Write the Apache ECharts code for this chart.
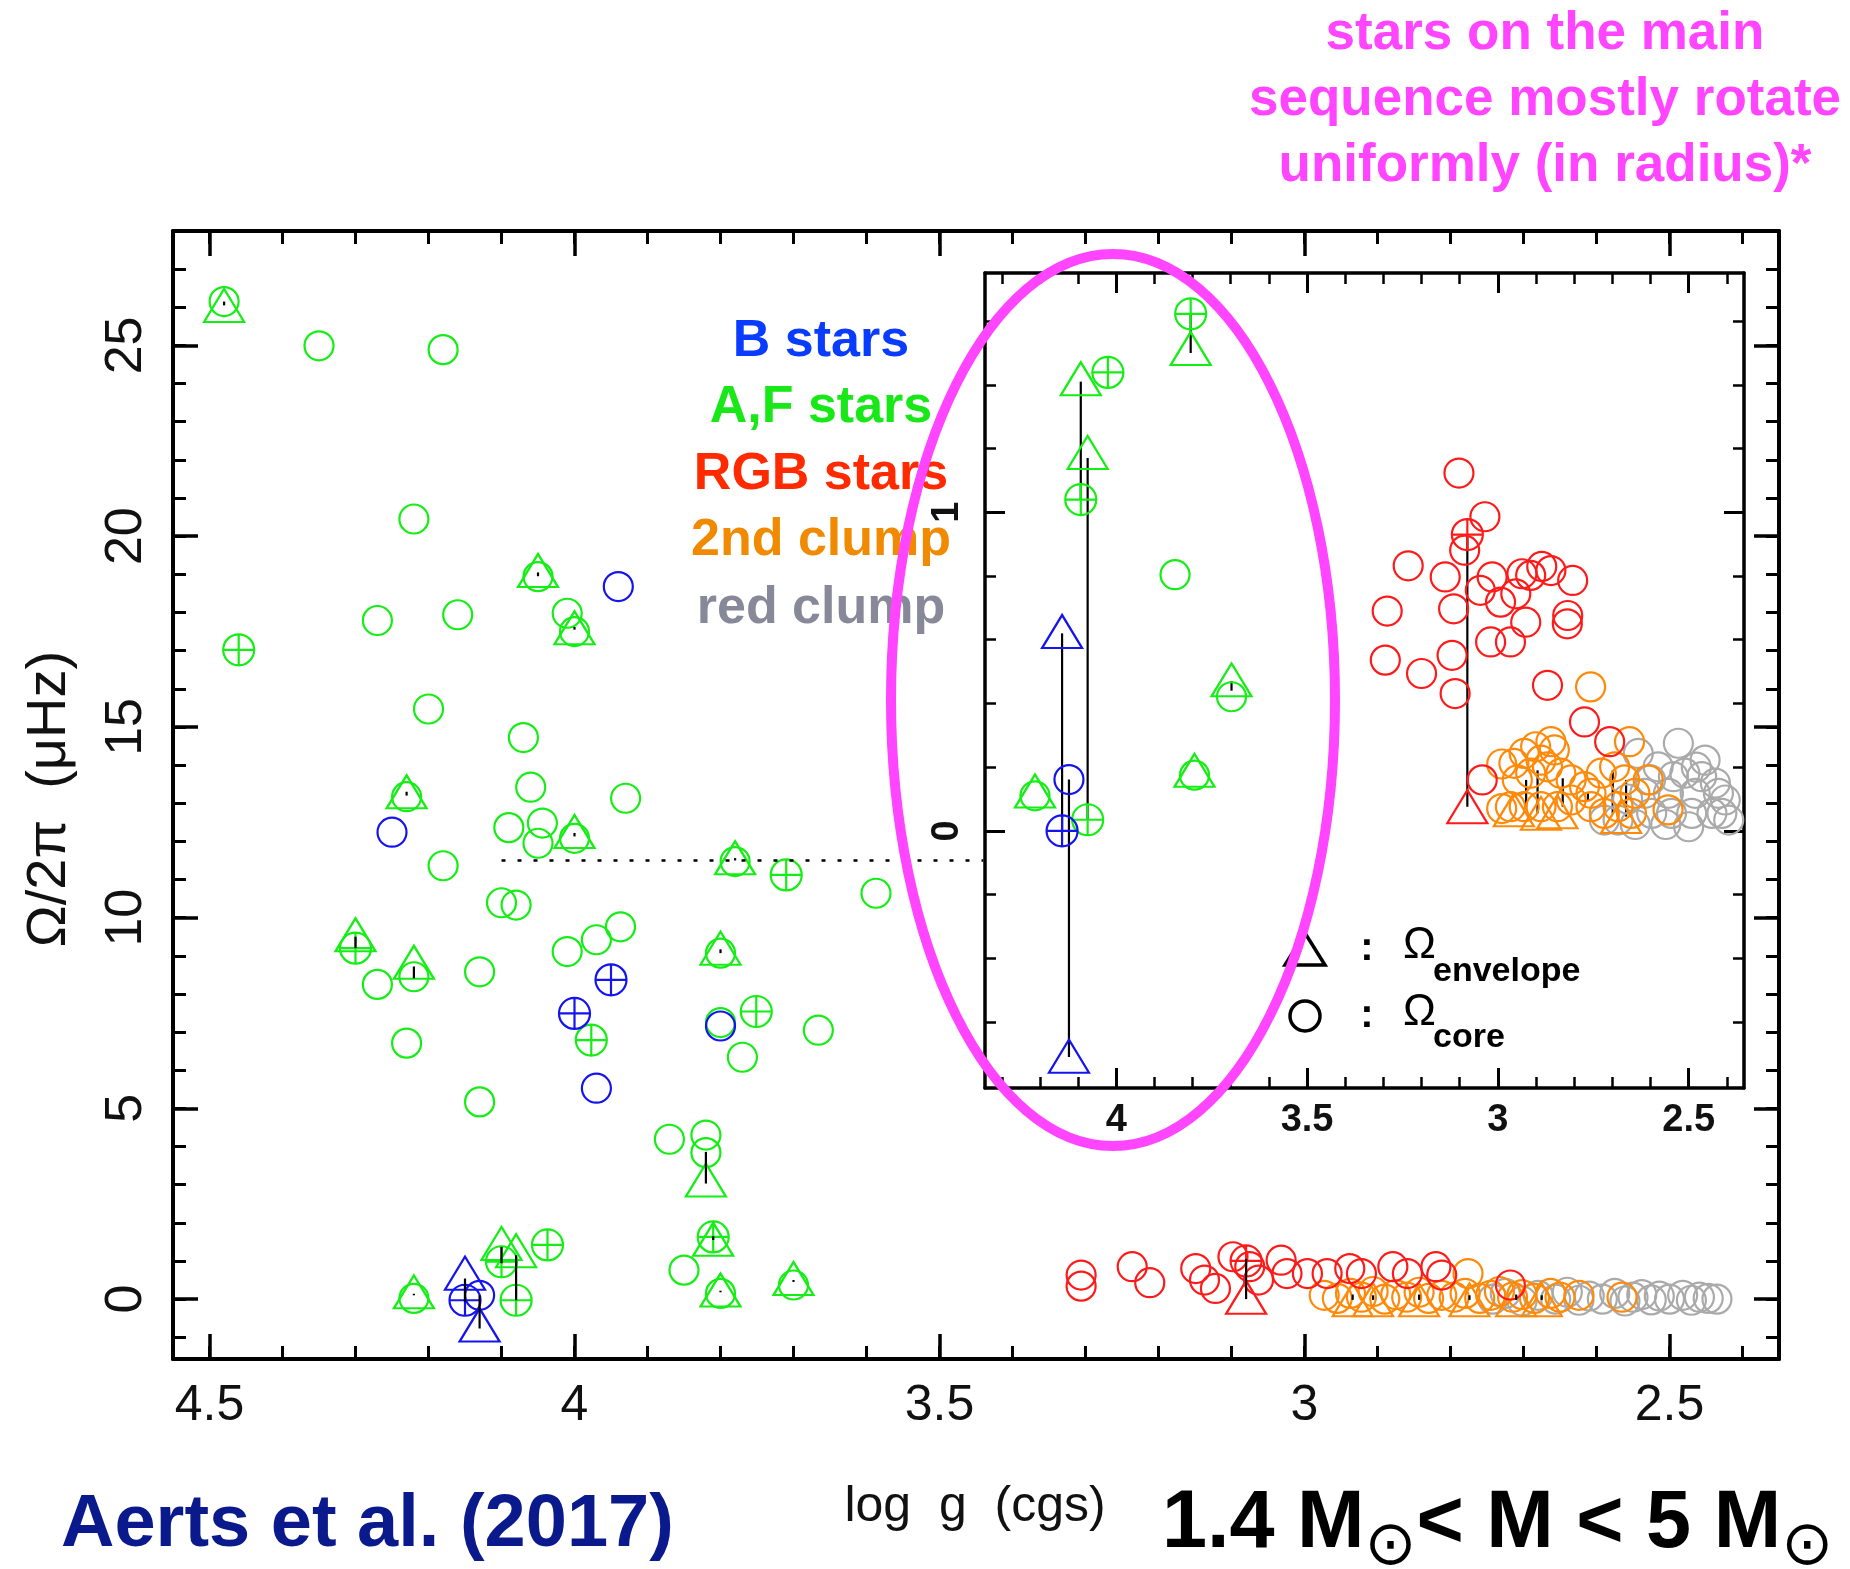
<!DOCTYPE html>
<html>
<head>
<meta charset="utf-8">
<title>Rotation vs log g</title>
<script src="https://cdn.jsdelivr.net/npm/echarts/dist/echarts.min.js"></script>
<style>
  html, body { margin: 0; padding: 0; background: #fff; }
  #chart { width: 1850px; height: 1569px; }
</style>
</head>
<body>
<div id="chart"></div>
<script>
// tick labels
var mainXTicks = [2.5, 3, 3.5, 4, 4.5];
var mainYTicks = [0, 5, 10, 15, 20, 25];
var insetXTicks = [2.5, 3, 3.5, 4];
var insetYTicks = [0, 1];

// main panel: [log g, Omega/2pi (muHz)]
var mainBCore = [[3.94, 18.68], [4.25, 12.24], [3.97, 5.53], [3.80, 7.16], [4.13, 0.10]];
var mainBPlus = [[3.95, 8.37], [4.00, 7.49], [4.15, -0.03]];
var mainBEnv = [[4.15, 0.68], [4.13, -0.68]];

var mainAFCore = [[4.48, 26.15], [4.35, 24.99], [4.18, 24.89], [4.22, 20.45], [4.05, 18.94], [4.27, 17.79],
  [4.16, 17.94], [4.01, 17.98], [4.00, 17.5], [4.20, 15.47], [4.07, 14.72], [4.23, 13.17], [4.06, 13.42],
  [3.93, 13.13], [4.09, 12.36], [4.044, 12.48], [4.05, 11.95], [4.00, 12.08], [4.18, 11.36], [3.78, 11.47],
  [3.587, 10.64], [4.10, 10.39], [4.08, 10.33], [4.01, 9.11], [3.97, 9.42], [3.937, 9.76], [3.80, 9.07],
  [4.22, 8.45], [4.13, 8.58], [4.27, 8.25], [3.80, 7.25], [3.666, 7.05], [3.77, 6.34], [4.23, 6.71],
  [4.13, 5.17], [3.87, 4.19], [3.82, 4.30], [3.82, 3.84], [3.85, 0.76], [3.80, 0.15], [3.70, 0.37], [4.22, 0.02]];
var mainAFPlus = [[4.46, 17.02], [3.71, 11.12], [4.30, 9.20], [3.977, 6.79], [3.751, 7.54], [3.81, 1.63],
  [4.10, 0.98], [4.08, -0.03], [4.037, 1.42]];
var mainAFEnv = [[4.48, 26.05], [4.05, 19.1], [4.00, 17.6], [4.23, 13.3], [4.00, 12.26], [3.78, 11.57],
  [4.30, 9.55], [3.80, 9.2], [4.22, 8.83], [3.82, 3.12], [3.81, 1.57], [4.10, 1.46], [4.08, 1.27],
  [3.80, 0.24], [3.70, 0.54], [4.22, 0.19]];

var mainRGBCore = [[3.306, 0.63], [3.306, 0.34], [3.236, 0.85], [3.212, 0.43], [3.149, 0.80], [3.137, 0.50],
  [3.122, 0.28], [3.098, 1.11], [3.075, 0.85], [3.063, 0.50], [3.032, 1.02], [3.024, 0.67], [2.996, 0.67],
  [2.969, 0.67], [2.938, 0.80], [2.922, 0.67], [2.879, 0.85], [2.859, 0.67], [2.820, 0.85], [2.812, 0.63],
  [2.718, 0.37]];
var mainRGBPlus = [[3.08, 1.0]];
var mainRGBEnv = [[3.08, 0.05]];

var main2ndCore = [[2.973, 0.10], [2.955, 0.02], [2.937, 0.15], [2.922, 0.05], [2.906, 0.20], [2.890, 0.00],
  [2.875, 0.12], [2.860, 0.05], [2.843, 0.18], [2.830, 0.02], [2.812, 0.10], [2.795, 0.05], [2.780, 0.15],
  [2.776, 0.67], [2.760, 0.02], [2.745, 0.10], [2.733, 0.20], [2.715, 0.05], [2.702, 0.12], [2.685, 0.02],
  [2.663, 0.15], [2.650, 0.05], [2.624, 0.10], [2.565, 0.05]];
var main2ndEnv = [[2.934, -0.02], [2.906, -0.02], [2.843, -0.02], [2.774, -0.02], [2.710, -0.02], [2.675, -0.02]];

var mainRCCore = [[2.742, 0.0], [2.725, 0.15], [2.702, -0.05], [2.680, 0.10], [2.656, 0.0], [2.640, 0.18],
  [2.624, -0.03], [2.610, 0.08], [2.592, 0.0], [2.575, 0.15], [2.561, -0.05], [2.550, 0.05], [2.538, 0.12],
  [2.525, -0.02], [2.514, 0.08], [2.500, 0.0], [2.482, 0.10], [2.470, -0.03], [2.459, 0.05], [2.447, 0.02],
  [2.435, 0.0]];

// [log g, from, to]
var mainLinks = [[4.48, 26.05, 26.15], [4.05, 18.95, 19.05], [4.00, 17.55, 17.62], [4.23, 13.2, 13.3],
  [4.00, 12.13, 12.22], [3.78, 11.5, 11.56], [4.30, 9.2, 9.5], [3.80, 9.07, 9.17], [4.22, 8.41, 8.72],
  [3.82, 3.03, 3.86], [3.81, 1.55, 1.65], [4.10, 0.94, 1.37], [4.08, -0.03, 1.15], [3.80, 0.18, 0.22],
  [3.70, 0.45, 0.5], [4.22, 0.1, 0.14], [4.15, -0.07, 0.54], [4.13, -0.77, 0.1], [3.08, 0.0, 1.05],
  [2.934, -0.02, 0.12], [2.906, -0.02, 0.1], [2.843, -0.02, 0.12], [2.774, -0.02, 0.1], [2.710, -0.02, 0.12],
  [2.675, -0.02, 0.1]];
var dottedLine = [[4.10, 11.5], [3.44, 11.5]];

// inset: [log g, log Omega]
var insetBCore = [[4.124, 0.161]];
var insetBPlus = [[4.142, 0.0]];
var insetBEnv = [[4.142, 0.626], [4.124, -0.707]];

var insetAFCore = [[3.846, 0.804], [3.698, 0.421], [3.795, 0.175], [4.213, 0.11]];
var insetAFPlus = [[3.805, 1.623], [4.022, 1.439], [4.093, 1.040], [4.075, 0.035]];
var insetAFEnv = [[3.805, 1.514], [4.093, 1.419], [4.075, 1.188], [3.698, 0.474], [3.795, 0.19], [4.213, 0.125]];

var insetRGBCore = [[3.102, 1.123], [3.034, 0.986], [3.087, 0.881], [3.235, 0.832], [3.138, 0.797],
  [3.046, 0.755], [3.015, 0.797], [2.937, 0.807], [2.914, 0.802], [2.885, 0.830], [2.861, 0.817],
  [2.804, 0.786], [2.993, 0.718], [2.953, 0.744], [3.116, 0.697], [2.927, 0.655], [2.817, 0.676],
  [2.818, 0.65], [3.29, 0.69], [3.019, 0.593], [2.967, 0.593], [3.120, 0.551], [3.295, 0.536],
  [3.200, 0.494], [3.112, 0.431], [2.870, 0.457], [2.773, 0.342], [2.707, 0.280], [3.041, 0.160]];
var insetRGBPlus = [[3.08, 0.93]];
var insetRGBEnv = [[3.08, 0.076]];

var inset2ndCore = [[2.757, 0.452], [2.655, 0.280], [2.606, 0.16], [2.554, 0.066], [2.958, 0.212],
  [2.931, 0.243], [2.901, 0.264], [2.861, 0.280], [2.852, 0.254], [2.887, 0.222], [2.949, 0.160],
  [2.914, 0.181], [2.870, 0.201], [2.835, 0.181], [2.808, 0.160], [2.773, 0.139], [2.967, 0.076],
  [2.931, 0.076], [2.887, 0.076], [2.844, 0.076], [2.808, 0.097], [2.756, 0.118], [2.729, 0.181],
  [2.694, 0.201], [2.668, 0.160], [2.641, 0.118], [2.685, 0.076], [2.650, 0.055], [2.721, 0.055],
  [2.756, 0.076], [2.99, 0.21], [2.99, 0.07]];
var inset2ndEnv = [[2.958, 0.066], [2.887, 0.055], [2.844, 0.06], [2.677, 0.045]];

var insetRCCore = [[2.527, 0.275], [2.457, 0.222], [2.422, 0.118], [2.413, 0.055], [2.510, 0.181],
  [2.580, 0.201], [2.632, 0.243], [2.615, 0.118], [2.553, 0.118], [2.483, 0.118], [2.439, 0.055],
  [2.685, 0.034], [2.721, 0.034], [2.492, 0.055], [2.545, 0.055], [2.597, 0.055], [2.404, 0.097],
  [2.466, 0.170], [2.395, 0.034], [2.50, 0.013], [2.56, 0.02], [2.64, 0.02], [2.54, 0.17], [2.48, 0.2],
  [2.60, 0.16], [2.66, 0.10], [2.43, 0.15]];

var insetLinks = [[3.805, 1.50, 1.62], [4.093, 1.04, 1.41], [4.075, 0.035, 1.17], [3.698, 0.44, 0.47],
  [4.142, 0.0, 0.62], [4.124, -0.71, 0.161], [3.08, 0.076, 0.93], [2.926, 0.07, 0.16], [2.896, 0.055, 0.19],
  [2.83, 0.076, 0.165], [2.764, 0.097, 0.118], [2.699, 0.055, 0.19], [2.664, 0.045, 0.16]];

var GREEN = '#14ee14', BLUE = '#1414ee', RED = '#ff1a1a', ORANGE = '#ff8a0a', GRAY = '#aaaaaa';
var PLUS = 'path://M0,-10A10,10,0,1,1,0,10A10,10,0,1,1,0,-10ZM-10,0L10,0M0,-10L0,10';

function steps(from, to, step) {
  var out = [];
  for (var v = from; v <= to + 1e-9; v += step) out.push(Math.round(v * 1000) / 1000);
  return out;
}

function axis(grid, pos, min, max, inverse, ticks, tickLen, tickW, lineW, label) {
  return {
    type: 'value', gridIndex: grid, position: pos, min: min, max: max, inverse: inverse,
    axisLine: { show: lineW > 0, onZero: false, lineStyle: { color: '#000', width: lineW } },
    axisTick: { show: true, inside: true, length: tickLen, customValues: ticks, lineStyle: { color: '#000', width: tickW } },
    axisLabel: label ? Object.assign({ customValues: ticks, color: '#111', fontFamily: 'Liberation Sans' }, label) : { show: false },
    splitLine: { show: false }
  };
}

function scatter(data, symbol, size, color, ai, z) {
  return {
    type: 'scatter', xAxisIndex: ai, yAxisIndex: ai, data: data, symbol: symbol, symbolSize: size,
    silent: true, z: z || 2,
    itemStyle: { color: 'rgba(0,0,0,0)', borderColor: color, borderWidth: 2.2, opacity: 1 }
  };
}

function links(data, ai) {
  return {
    type: 'custom', xAxisIndex: ai, yAxisIndex: ai, data: data, silent: true, z: 4,
    encode: { x: 0, y: [1, 2] },
    renderItem: function (params, api) {
      var p1 = api.coord([api.value(0), api.value(1)]);
      var p2 = api.coord([api.value(0), api.value(2)]);
      return { type: 'line', shape: { x1: p1[0], y1: p1[1], x2: p2[0], y2: p2[1] }, style: { stroke: '#000', lineWidth: 2.2 } };
    }
  };
}

function group(core, plus, env, color, ai, z) {
  var out = [scatter(core, 'circle', 29, color, ai, z)];
  if (plus) out.push(scatter(plus, PLUS, 31, color, ai, z));
  if (env) out.push(scatter(env, 'triangle', [40, 33], color, ai, z));
  return out;
}

var main = { left: 173, top: 231, width: 1606, height: 1128 };
var inset = { left: 985, top: 273, width: 759, height: 815 };
var mx = [2.35, 4.55], my = [-1.57, 28.0], ix = [2.355, 4.344], iy = [-0.807, 1.751];

var myChart = echarts.init(document.getElementById('chart'));

var series = [].concat(
  group(mainRCCore, null, null, GRAY, 0, 2),
  group(main2ndCore, null, main2ndEnv, ORANGE, 0, 2),
  group(mainRGBCore, mainRGBPlus, mainRGBEnv, RED, 0, 2),
  group(mainAFCore, mainAFPlus, mainAFEnv, GREEN, 0, 2),
  group(mainBCore, mainBPlus, mainBEnv, BLUE, 0, 2),
  [links(mainLinks, 0)],
  [{
    type: 'line', xAxisIndex: 0, yAxisIndex: 0, data: dottedLine, symbol: 'none', silent: true,
    lineStyle: { color: '#000', width: 2.5, type: [4, 12] }, z: 3
  }],
  group(insetRCCore, null, null, GRAY, 4, 5),
  group(inset2ndCore, null, inset2ndEnv, ORANGE, 4, 5),
  group(insetRGBCore, insetRGBPlus, insetRGBEnv, RED, 4, 5),
  group(insetAFCore, insetAFPlus, insetAFEnv, GREEN, 4, 5),
  group(insetBCore, insetBPlus, insetBEnv, BLUE, 4, 5),
  [links(insetLinks, 4)]
);

var bold = 'bold 52px "Liberation Sans", Arial, sans-serif';

myChart.setOption({
  animation: false,
  backgroundColor: '#fff',
  grid: [
    Object.assign({ show: false }, main),
    Object.assign({ show: false }, main),
    Object.assign({ show: true, backgroundColor: '#fff', borderWidth: 0 }, inset),
    Object.assign({ show: false }, inset)
  ],
  xAxis: [
    axis(0, 'bottom', mx[0], mx[1], true, mainXTicks, 25, 3.5, 4, { fontSize: 50, margin: 22 }),
    axis(0, 'top', mx[0], mx[1], true, mainXTicks, 25, 3.5, 4, null),
    axis(1, 'bottom', mx[0], mx[1], true, steps(2.4, 4.5, 0.1), 13, 3, 0, null),
    axis(1, 'top', mx[0], mx[1], true, steps(2.4, 4.5, 0.1), 13, 3, 0, null),
    axis(2, 'bottom', ix[0], ix[1], true, insetXTicks, 20, 3, 3.5, { fontSize: 38, fontWeight: 'bold', margin: 14 }),
    axis(2, 'top', ix[0], ix[1], true, insetXTicks, 20, 3, 3.5, null),
    axis(3, 'bottom', ix[0], ix[1], true, steps(2.4, 4.3, 0.1), 11, 2.5, 0, null),
    axis(3, 'top', ix[0], ix[1], true, steps(2.4, 4.3, 0.1), 11, 2.5, 0, null)
  ],
  yAxis: [
    axis(0, 'left', my[0], my[1], false, mainYTicks, 25, 3.5, 4, { fontSize: 52, rotate: 90, margin: 20 }),
    axis(0, 'right', my[0], my[1], false, mainYTicks, 25, 3.5, 4, null),
    axis(1, 'left', my[0], my[1], false, steps(-1, 27, 1), 13, 3, 0, null),
    axis(1, 'right', my[0], my[1], false, steps(-1, 27, 1), 13, 3, 0, null),
    axis(2, 'left', iy[0], iy[1], false, insetYTicks, 20, 3, 3.5, { fontSize: 38, fontWeight: 'bold', rotate: 90, margin: 18 }),
    axis(2, 'right', iy[0], iy[1], false, insetYTicks, 20, 3, 3.5, null),
    axis(3, 'left', iy[0], iy[1], false, steps(-0.6, 1.6, 0.2), 11, 2.5, 0, null),
    axis(3, 'right', iy[0], iy[1], false, steps(-0.6, 1.6, 0.2), 11, 2.5, 0, null)
  ],
  series: series,
  graphic: [
    { type: 'text', x: 50, y: 799, rotation: Math.PI / 2, z: 10,
      style: { text: 'Ω/2π  (μHz)', font: '56px "Liberation Sans", Arial, sans-serif', fill: '#111', textAlign: 'center', textVerticalAlign: 'middle' } },
    { type: 'text', x: 975, y: 1507, z: 10,
      style: { text: 'log  g  (cgs)', font: '50px "Liberation Sans", Arial, sans-serif', fill: '#111', textAlign: 'center', textVerticalAlign: 'middle' } },
    { type: 'text', x: 821, y: 342, z: 20, style: { text: 'B stars', font: bold, fill: '#0a3cff', textAlign: 'center', textVerticalAlign: 'middle' } },
    { type: 'text', x: 821, y: 408, z: 20, style: { text: 'A,F stars', font: bold, fill: '#18e818', textAlign: 'center', textVerticalAlign: 'middle' } },
    { type: 'text', x: 821, y: 475, z: 20, style: { text: 'RGB stars', font: bold, fill: '#ff2a00', textAlign: 'center', textVerticalAlign: 'middle' } },
    { type: 'text', x: 821, y: 541, z: 20, style: { text: '2nd clump', font: bold, fill: '#f08a00', textAlign: 'center', textVerticalAlign: 'middle' } },
    { type: 'text', x: 821, y: 609, z: 20, style: { text: 'red clump', font: bold, fill: '#878999', textAlign: 'center', textVerticalAlign: 'middle' } },
    { type: 'ellipse', z: 30, shape: { cx: 1113, cy: 700, rx: 222, ry: 446 },
      style: { fill: 'none', stroke: '#ff45ff', lineWidth: 10 } },
    { type: 'text', x: 1545, y: 100, z: 20,
      style: { text: 'stars on the main\nsequence mostly rotate\nuniformly (in radius)*', font: 'bold 53px "Liberation Sans", Arial, sans-serif',
        lineHeight: 66, fill: '#ff45ff', textAlign: 'center', textVerticalAlign: 'middle' } },
    { type: 'text', x: 61, y: 1526, z: 20,
      style: { text: 'Aerts et al. (2017)', font: 'bold 74px "Liberation Sans", Arial, sans-serif', fill: '#0a1a8c', textAlign: 'left', textVerticalAlign: 'middle' } },
    { type: 'text', x: 1162, y: 1548, z: 20,
      style: { text: '{m|1.4 M}{s|⊙}{m|< M < 5 M}{s|⊙}', textAlign: 'left', textVerticalAlign: 'middle', fill: '#000',
        rich: {
          m: { font: 'bold 81px "Liberation Sans", Arial, sans-serif', lineHeight: 88, verticalAlign: 'top', fill: '#000' },
          s: { font: '62px "DejaVu Sans", sans-serif', lineHeight: 128, verticalAlign: 'middle', fill: '#000' }
        } } },
    // inset legend
    { type: 'polygon', z: 20, shape: { points: [[1285, 965], [1305, 933], [1325, 965]] }, style: { fill: 'none', stroke: '#000', lineWidth: 3.5 } },
    { type: 'circle', z: 20, shape: { cx: 1305, cy: 1016, r: 15 }, style: { fill: 'none', stroke: '#000', lineWidth: 3.5 } },
    { type: 'text', x: 1367, y: 949, z: 20, style: { text: ':', font: 'bold 40px "Liberation Sans", Arial', fill: '#000', textAlign: 'center', textVerticalAlign: 'middle' } },
    { type: 'text', x: 1367, y: 1016, z: 20, style: { text: ':', font: 'bold 40px "Liberation Sans", Arial', fill: '#000', textAlign: 'center', textVerticalAlign: 'middle' } },
    { type: 'text', x: 1403, y: 946, z: 20, style: { text: 'Ω', font: '44px "Liberation Sans", Arial', fill: '#000', textAlign: 'left', textVerticalAlign: 'middle' } },
    { type: 'text', x: 1433, y: 972, z: 20, style: { text: 'envelope', font: 'bold 34px "Liberation Sans", Arial', fill: '#000', textAlign: 'left', textVerticalAlign: 'middle' } },
    { type: 'text', x: 1403, y: 1013, z: 20, style: { text: 'Ω', font: '44px "Liberation Sans", Arial', fill: '#000', textAlign: 'left', textVerticalAlign: 'middle' } },
    { type: 'text', x: 1433, y: 1038, z: 20, style: { text: 'core', font: 'bold 34px "Liberation Sans", Arial', fill: '#000', textAlign: 'left', textVerticalAlign: 'middle' } }
  ]
});
</script>
</body>
</html>
